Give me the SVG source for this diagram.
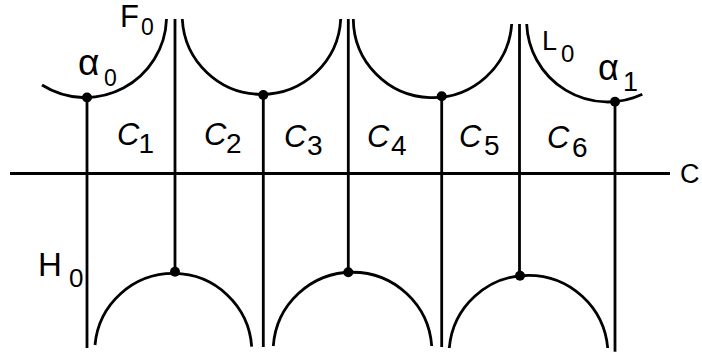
<svg xmlns="http://www.w3.org/2000/svg" width="702" height="356" viewBox="0 0 702 356">
<style>
.ln{stroke:#000;stroke-width:2.8;fill:none}
.dot{fill:#000}
.t{font-family:"Liberation Sans",Arial,sans-serif;fill:#000}
.cal{font-family:"Liberation Sans",Arial,sans-serif;font-style:italic;font-size:31px;fill:#000}
.sub{font-family:"Liberation Sans",Arial,sans-serif;font-size:28px;fill:#000}
</style>
<rect width="702" height="356" fill="#fff"/>
<g id="axis">
<line class="ln" x1="10" y1="173.5" x2="670" y2="173.5"/>
</g>
<g id="upper-arcs">
<path class="ln" d="M42,85 A81.2,81.2 0 0 0 166.5,19"/>
<path class="ln" d="M182.3,19 A79.3,79.3 0 0 0 340.7,19"/>
<path class="ln" d="M353.3,19 A79.3,79.3 0 0 0 511.7,24"/>
<path class="ln" d="M526.7,24 A81.2,81.2 0 0 0 642.3,94.3"/>
</g>
<g id="lower-arcs">
<path class="ln" d="M95,345 A78.6,78.6 0 0 1 251.7,346.7"/>
<path class="ln" d="M273.3,346 A79.4,79.4 0 0 1 431.7,346"/>
<path class="ln" d="M449.3,348 A79.5,79.5 0 0 1 607.7,348"/>
</g>
<g id="verticals">
<line class="ln" x1="87" y1="97.5" x2="87" y2="348"/>
<line class="ln" x1="175" y1="19" x2="175" y2="271.7"/>
<line class="ln" x1="263.3" y1="95" x2="263.3" y2="347"/>
<line class="ln" x1="348.3" y1="19" x2="348.3" y2="272.3"/>
<line class="ln" x1="441.7" y1="96.3" x2="441.7" y2="347"/>
<line class="ln" x1="519.5" y1="24" x2="519.5" y2="275.7"/>
<line class="ln" x1="615" y1="101.7" x2="615" y2="351.7"/>
</g>
<g id="dots">
<circle class="dot" cx="87" cy="97.5" r="5"/>
<circle class="dot" cx="263.3" cy="95" r="5"/>
<circle class="dot" cx="441.7" cy="96.3" r="5"/>
<circle class="dot" cx="615" cy="101.7" r="5"/>
<circle class="dot" cx="175" cy="271.7" r="5"/>
<circle class="dot" cx="348.3" cy="272.3" r="5"/>
<circle class="dot" cx="520" cy="275.7" r="5"/>
</g>
<g id="labels">
<text class="t" x="120" y="26.7" font-size="31">F</text>
<text class="t" x="141" y="35" font-size="23">0</text>
<text class="t" x="78" y="75" font-size="37">α</text>
<text class="t" x="104" y="86" font-size="23">0</text>
<text class="t" x="542" y="50" font-size="27">L</text>
<text class="t" x="561" y="61.7" font-size="24">0</text>
<text class="t" x="598" y="80" font-size="36">α</text>
<text class="t" x="623" y="90.7" font-size="27">1</text>
<text class="t" x="38" y="276" font-size="33">H</text>
<text class="t" x="69" y="286.7" font-size="26">0</text>
<text class="t" x="680" y="183" font-size="27">C</text>
</g>
<g id="cells">
<text class="cal" x="117" y="145">C</text><text class="sub" x="138.6" y="152.7">1</text>
<text class="cal" x="204" y="145">C</text><text class="sub" x="226" y="152.7">2</text>
<text class="cal" x="284" y="146.7">C</text><text class="sub" x="307" y="155">3</text>
<text class="cal" x="367" y="146.7">C</text><text class="sub" x="391" y="155">4</text>
<text class="cal" x="459" y="146.7">C</text><text class="sub" x="484" y="155">5</text>
<text class="cal" x="547" y="148">C</text><text class="sub" x="572" y="156.7">6</text>
</g>
</svg>
